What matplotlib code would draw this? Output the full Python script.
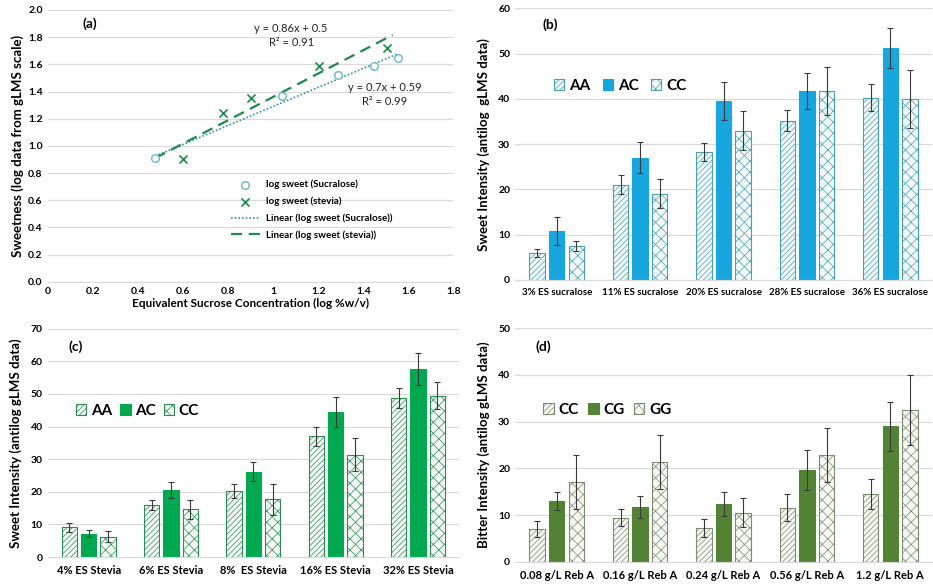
import matplotlib
matplotlib.use("Agg")
import matplotlib.pyplot as plt
import numpy as np

plt.rcParams['font.family'] = ['Lato', 'DejaVu Sans']
plt.rcParams['hatch.linewidth'] = 0.5

# ---------------- data ----------------
# (a)
suc_x = [0.477, 1.041, 1.290, 1.447, 1.556]
suc_y = [0.91, 1.37, 1.52, 1.59, 1.65]
stv_x = [0.602, 0.778, 0.903, 1.204, 1.505]
stv_y = [0.90, 1.24, 1.35, 1.59, 1.72]
suc_fit = (0.70, 0.59)
stv_fit = (0.86, 0.50)
suc_fit_range = (0.477, 1.556)
stv_fit_range = (0.477, 1.53)
a_xticks = [0, 0.2, 0.4, 0.6, 0.8, 1, 1.2, 1.4, 1.6, 1.8]
a_xticklabels = ['0', '0.2', '0.4', '0.6', '0.8', '1', '1.2', '1.4', '1.6', '1.8']

# (b)
b_cats = ['3% ES sucralose', '11% ES sucralose', '20% ES sucralose', '28% ES sucralose', '36% ES sucralose']
b_AA = [6.0, 21.0, 28.3, 35.2, 40.2]
b_AA_err = [0.9, 2.1, 2.0, 2.4, 3.0]
b_AC = [10.8, 27.0, 39.5, 41.8, 51.3]
b_AC_err = [3.0, 3.4, 4.2, 4.0, 4.4]
b_CC = [7.5, 19.0, 33.0, 41.8, 40.0]
b_CC_err = [1.2, 3.2, 4.2, 5.3, 6.4]

# (c)
c_cats = ['4% ES Stevia', '6% ES Stevia', '8%  ES Stevia', '16% ES Stevia', '32% ES Stevia']
c_AA = [9.1, 16.0, 20.2, 37.1, 48.8]
c_AA_err = [1.3, 1.6, 2.1, 2.9, 3.0]
c_AC = [7.2, 20.5, 26.2, 44.5, 57.6]
c_AC_err = [1.0, 2.4, 2.9, 4.7, 5.0]
c_CC = [6.2, 14.7, 17.7, 31.4, 49.5]
c_CC_err = [1.7, 2.9, 4.7, 5.0, 4.2]

# (d)
d_cats = ['0.08 g/L Reb A', '0.16 g/L Reb A', '0.24 g/L Reb A', '0.56 g/L Reb A', '1.2 g/L Reb A']
d_CC = [7.0, 9.4, 7.3, 11.6, 14.5]
d_CC_err = [1.8, 1.8, 1.9, 2.9, 3.2]
d_CG = [13.0, 11.7, 12.4, 19.6, 29.0]
d_CG_err = [2.0, 2.3, 2.6, 4.3, 5.2]
d_GG = [17.0, 21.3, 10.5, 22.8, 32.4]
d_GG_err = [5.8, 5.8, 3.1, 5.8, 7.5]

fig = plt.figure(figsize=(9.33, 5.87), dpi=100)

GRID = '#d9d9d9'
ERR = '#3a3a3a'


def style_axes(ax):
    for s in ['top', 'right', 'left']:
        ax.spines[s].set_visible(False)
    ax.spines['bottom'].set_color(GRID)
    ax.yaxis.grid(True, color=GRID, lw=0.8)
    ax.set_axisbelow(True)
    ax.tick_params(axis='both', length=0, labelsize=7.5)
    for lab in ax.get_xticklabels() + ax.get_yticklabels():
        lab.set_fontweight('bold')


# ---------------- (a) ----------------
axa = fig.add_axes([0.051, 0.520, 0.435, 0.463])
xs = np.linspace(*suc_fit_range, 50)
axa.plot(xs, suc_fit[0] * xs + suc_fit[1], ls=(0, (1, 1.2)), color='#2f8fb0', lw=1.2,
         label='Linear (log sweet (Sucralose))', zorder=2)
xs2 = np.linspace(*stv_fit_range, 50)
axa.plot(xs2, stv_fit[0] * xs2 + stv_fit[1], ls=(0, (5, 3)), color='#1e8a4c', lw=1.6,
         label='Linear (log sweet (stevia))', zorder=2)
axa.scatter(suc_x, suc_y, s=30, facecolors='white', edgecolors='#6bb7c7', lw=1.0,
            label='log sweet (Sucralose)', zorder=3)
axa.scatter(stv_x, stv_y, s=34, marker='x', color='#1e8a4c', lw=1.2,
            label='log sweet (stevia)', zorder=3)
axa.set_xlim(0, 1.8)
axa.set_ylim(0, 2.0)
axa.set_xticks(a_xticks)
axa.set_xticklabels(a_xticklabels)
axa.set_yticks(np.arange(0, 2.01, 0.2))
axa.set_yticklabels([f'{v:.1f}' for v in np.arange(0, 2.01, 0.2)])
style_axes(axa)
axa.set_xlabel('Equivalent Sucrose Concentration (log %w/v)', fontsize=8.5, fontweight='bold', labelpad=2)
axa.set_ylabel('Sweetness (log data from gLMS scale)', fontsize=9.5, fontweight='bold', labelpad=3)
axa.text(0.085, 0.95, '(a)', transform=axa.transAxes, fontsize=10, fontweight='bold', va='center')
axa.text(0.60, 0.905, 'y = 0.86x + 0.5\nR² = 0.91', transform=axa.transAxes, fontsize=8,
         ha='center', va='center', linespacing=1.3, color='#222222')
axa.text(0.83, 0.69, 'y = 0.7x + 0.59\nR² = 0.99', transform=axa.transAxes, fontsize=8,
         ha='center', va='center', linespacing=1.3, color='#222222')
h, l = axa.get_legend_handles_labels()
order = [2, 3, 0, 1]
leg = axa.legend([h[i] for i in order], [l[i] for i in order], loc='center left',
                 bbox_to_anchor=(0.43, 0.265), frameon=False, fontsize=7,
                 handlelength=3.0, labelspacing=0.75, handletextpad=0.6)
for t in leg.get_texts():
    t.set_fontweight('bold')


def grouped(ax, cats, vals, errs, names, solid_color, hatch_edge, hatch_face, ylim, yticks):
    x = np.arange(len(cats))
    w = 0.185
    off = [-0.235, 0, 0.235]
    styles = [
        dict(facecolor=hatch_face, edgecolor=hatch_edge, hatch='//////', lw=0.8),
        dict(facecolor=solid_color, edgecolor=solid_color, lw=0.8),
        dict(facecolor=hatch_face, edgecolor=hatch_edge, hatch='xxx', lw=0.8),
    ]
    for i in range(3):
        ax.bar(x + off[i], vals[i], w, label=names[i], zorder=2, **styles[i])
        ax.errorbar(x + off[i], vals[i], yerr=errs[i], fmt='none', ecolor=ERR,
                    elinewidth=0.8, capsize=2.5, capthick=0.8, zorder=3)
    ax.set_xlim(-0.5, len(cats) - 0.5)
    ax.set_ylim(*ylim)
    ax.set_yticks(yticks)
    ax.set_xticks(x)
    ax.set_xticklabels(cats)
    style_axes(ax)


# ---------------- (b) ----------------
axb = fig.add_axes([0.552, 0.523, 0.447, 0.463])
grouped(axb, b_cats, [b_AA, b_AC, b_CC], [b_AA_err, b_AC_err, b_CC_err], ['AA', 'AC', 'CC'],
        '#17a6de', '#4a9fb3', '#f2f9fb', (0, 60), range(0, 61, 10))
axb.tick_params(axis='x', labelsize=7, pad=6)
axb.set_ylabel('Sweet Intensity (antilog  gLMS data)', fontsize=9.5, fontweight='bold', labelpad=6)
axb.text(0.065, 0.94, '(b)', transform=axb.transAxes, fontsize=10, fontweight='bold', va='center')
lg = axb.legend(loc='center left', bbox_to_anchor=(0.06, 0.715), ncol=3, frameon=False,
                fontsize=11, handlelength=0.7, handleheight=0.7, handletextpad=0.3,
                columnspacing=0.8)
for t in lg.get_texts():
    t.set_fontweight('bold')

# ---------------- (c) ----------------
axc = fig.add_axes([0.051, 0.051, 0.441, 0.389])
grouped(axc, c_cats, [c_AA, c_AC, c_CC], [c_AA_err, c_AC_err, c_CC_err], ['AA', 'AC', 'CC'],
        '#00a84f', '#2f8a55', '#f3faf5', (0, 70), range(0, 71, 10))
axc.tick_params(axis='x', labelsize=8, pad=6)
axc.set_ylabel('Sweet Intensity (antilog gLMS data)', fontsize=9.5, fontweight='bold', labelpad=6)
axc.text(0.05, 0.92, '(c)', transform=axc.transAxes, fontsize=10, fontweight='bold', va='center')
lg = axc.legend(loc='center left', bbox_to_anchor=(0.035, 0.64), ncol=3, frameon=False,
                fontsize=11, handlelength=0.7, handleheight=0.7, handletextpad=0.3,
                columnspacing=0.5)
for t in lg.get_texts():
    t.set_fontweight('bold')

# ---------------- (d) ----------------
axd = fig.add_axes([0.552, 0.043, 0.447, 0.398])
grouped(axd, d_cats, [d_CC, d_CG, d_GG], [d_CC_err, d_CG_err, d_GG_err], ['CC', 'CG', 'GG'],
        '#548235', '#7d8c70', '#f6f8f3', (0, 50), range(0, 51, 10))
axd.tick_params(axis='x', labelsize=8, pad=6)
axd.set_ylabel('Bitter Intensity (antilog gLMS data)', fontsize=9.5, fontweight='bold', labelpad=6)
axd.text(0.05, 0.92, '(d)', transform=axd.transAxes, fontsize=10, fontweight='bold', va='center')
lg = axd.legend(loc='center left', bbox_to_anchor=(0.035, 0.65), ncol=3, frameon=False,
                fontsize=11, handlelength=0.7, handleheight=0.7, handletextpad=0.3,
                columnspacing=0.6)
for t in lg.get_texts():
    t.set_fontweight('bold')

fig.savefig('out.png', dpi=100)
